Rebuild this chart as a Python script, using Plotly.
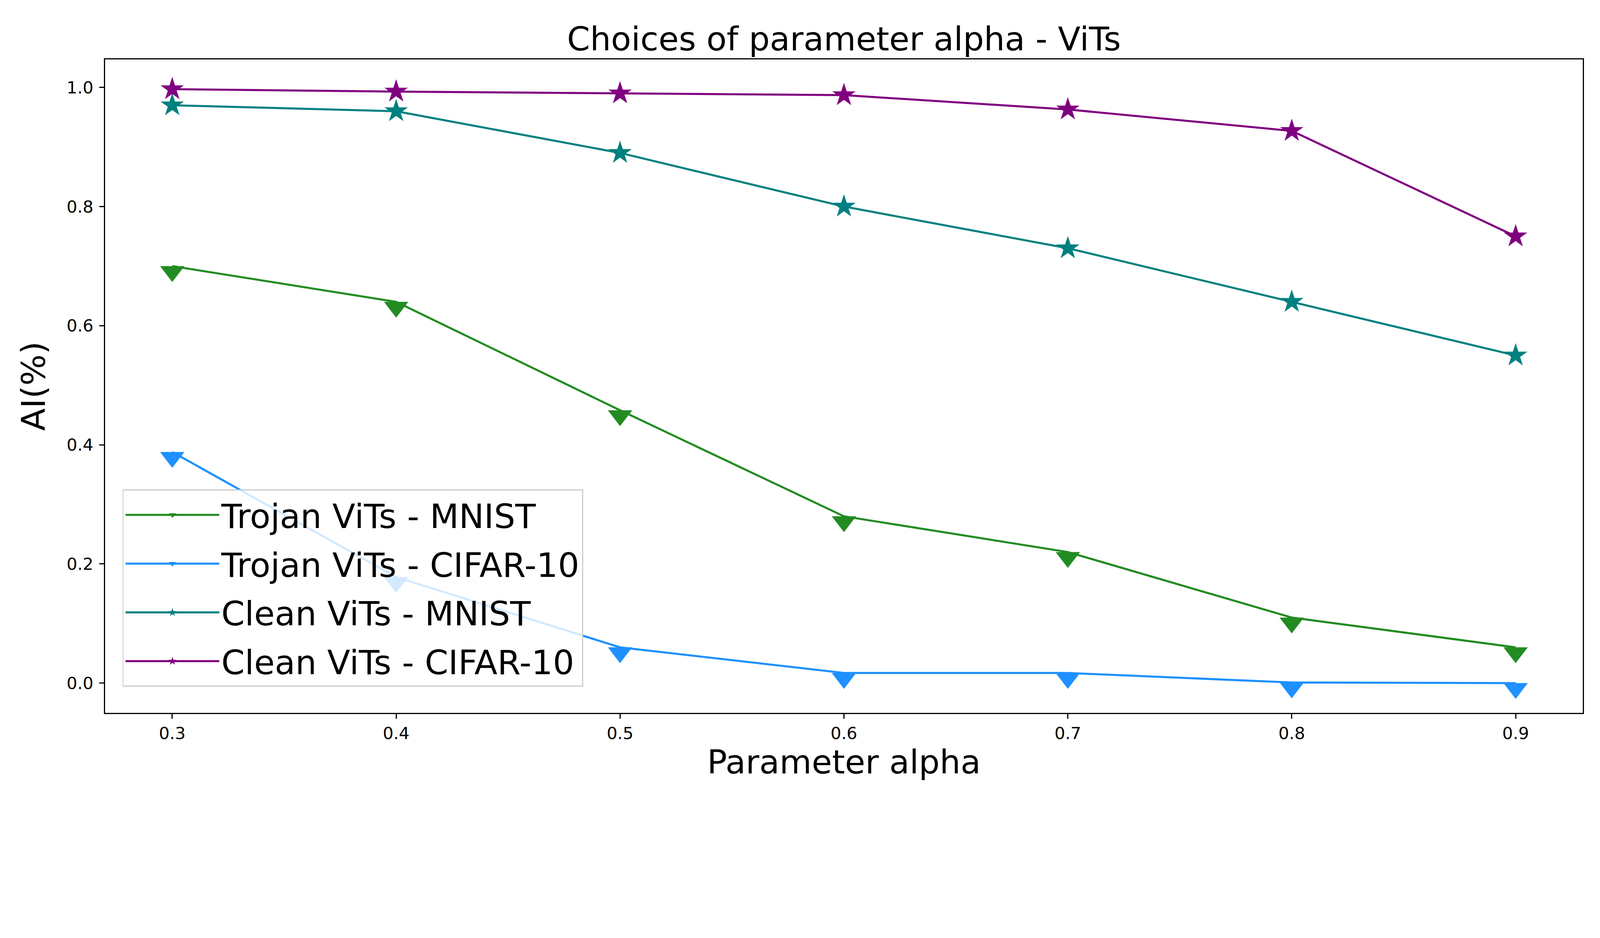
import plotly.graph_objects as go

# parameter alpha values on the x axis
alpha = [0.3, 0.4, 0.5, 0.6, 0.7, 0.8, 0.9]
alpha_labels = ["0.3", "0.4", "0.5", "0.6", "0.7", "0.8", "0.9"]

# AI values
trojan_mnist = [0.70, 0.64, 0.458, 0.28, 0.22, 0.11, 0.06]
trojan_cifar = [0.388, 0.178, 0.06, 0.017, 0.017, 0.001, 0.0]
clean_mnist = [0.97, 0.96, 0.89, 0.80, 0.73, 0.64, 0.55]
clean_cifar = [0.997, 0.993, 0.990, 0.987, 0.963, 0.927, 0.75]

y_ticks = [0.0, 0.2, 0.4, 0.6, 0.8, 1.0]
y_tick_labels = ["0.0", "0.2", "0.4", "0.6", "0.8", "1.0"]

series = [
    ("Trojan ViTs - MNIST", trojan_mnist, "#228B22", "triangle-down"),
    ("Trojan ViTs - CIFAR-10", trojan_cifar, "#1E90FF", "triangle-down"),
    ("Clean ViTs - MNIST", clean_mnist, "#008080", "star"),
    ("Clean ViTs - CIFAR-10", clean_cifar, "#800080", "star"),
]

# page is shown at 4800x2400 device px, which is 4096x2048 css px
W, H = 4096, 2048
margin = dict(l=261, r=52, t=144, b=232)
y_range = [-0.05, 1.047]
tri_size = 54
star_size = 45
lw = 5.3

# matplotlib caret markers hang below the point: shift them with a second axis
plot_h = H - margin["t"] - margin["b"]
shift = (tri_size / 4) * (y_range[1] - y_range[0]) / plot_h

fig = go.Figure()
for i, (name, vals, color, sym) in enumerate(series):
    fig.add_trace(go.Scatter(
        x=alpha, y=vals, mode="lines",
        line=dict(color=color, width=lw),
        showlegend=False, hoverinfo="skip",
    ))
    tri = sym == "triangle-down"
    fig.add_trace(go.Scatter(
        x=alpha, y=vals, mode="markers",
        marker=dict(symbol=sym, color=color, size=tri_size if tri else star_size,
                    line=dict(width=0)),
        yaxis="y2" if tri else "y",
        showlegend=False,
    ))
    # legend entry
    fig.add_trace(go.Scatter(
        x=[None], y=[None], mode="lines+markers", name=name,
        line=dict(color=color, width=lw),
        marker=dict(symbol=sym, color=color, size=16),
        legendgroup="g%d" % i,
    ))

axis_common = dict(
    showline=True, mirror=True, linecolor="black", linewidth=2.8,
    ticks="outside", ticklen=12.5, tickwidth=2.8, tickcolor="black",
    showgrid=False, zeroline=False,
    tickfont=dict(size=43, color="black"),
)

fig.update_layout(
    width=W, height=H,
    margin=margin,
    paper_bgcolor="white", plot_bgcolor="white",
    font=dict(family="DejaVu Sans", color="black"),
    title=dict(text="Choices of parameter alpha - ViTs", x=0.5, xref="paper",
               xanchor="center", y=1 - 91 / H, yanchor="middle",
               font=dict(size=84.5)),
    xaxis=dict(range=[0.27, 0.93], tickvals=alpha, ticktext=alpha_labels,
               title=dict(text="Parameter alpha", font=dict(size=84.5), standoff=5),
               automargin=False, **axis_common),
    yaxis=dict(range=y_range, tickvals=y_ticks, ticktext=y_tick_labels,
               title=dict(text="AI(%)", font=dict(size=84.5), standoff=28),
               ticklabelstandoff=6,
               automargin=False, **axis_common),
    yaxis2=dict(range=[y_range[0] + shift, y_range[1] + shift], overlaying="y",
                visible=False),
    legend=dict(x=0.0118, y=0.04, xanchor="left", yanchor="bottom",
                bgcolor="rgba(255,255,255,0.8)", bordercolor="#cccccc", borderwidth=2.8,
                font=dict(size=86), tracegroupgap=10, itemwidth=240),
    showlegend=True,
)

fig.write_html("out.html")
